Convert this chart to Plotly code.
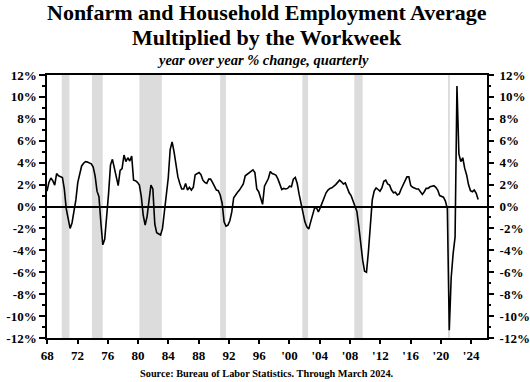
import pandas as pd
import plotly.graph_objects as go

# ---- data (quarterly, 1968Q1 - 2024Q1), year-over-year % change ----
start_quarter = "1968Q1"
values = [
    1.4, 2.2, 2.6, 2.35, 1.95, 3.0, 2.8, 2.75, 2.65, 1.6,
    -0.2, -1.1, -2.0, -1.5, -0.6, 0.6, 2.2, 3.1, 3.7, 3.95,
    4.1, 4.05, 3.95, 3.9, 3.6, 2.8, 1.4, 0.9, -1.5, -3.5,
    -3.0, -1.0, 1.2, 3.8, 4.3, 3.5, 2.65, 1.9, 3.3, 3.45,
    4.7, 4.1, 4.45, 4.15, 4.6, 2.4, 2.35, 2.2, 1.95, 0.9,
    -0.8, -1.7, -0.9, 0.4, 1.95, 1.6, -1.6, -2.4, -2.5, -2.6,
    -2.0, -0.3, 1.5, 2.6, 5.2, 5.9, 5.0, 3.8, 2.7, 2.1,
    1.6, 1.6, 2.1, 1.5, 1.75, 1.5, 1.75, 2.9, 3.0, 3.1,
    2.9, 2.4, 2.2, 2.1, 2.5, 2.5, 2.2, 1.8, 1.5, 1.45,
    1.05, 0.3, -1.4, -1.8, -1.7, -1.3, -0.5, 0.8, 1.1, 1.3,
    1.5, 1.75, 2.05, 2.8, 2.95, 3.1, 3.2, 3.35, 3.1, 1.6,
    1.35, 0.8, 0.2, 1.85, 2.25, 2.55, 3.2, 3.0, 2.95, 2.85,
    2.5, 2.1, 1.55, 1.65, 1.6, 1.65, 1.85, 1.8, 2.5, 2.65,
    2.1, 1.1, 0.2, -0.8, -1.4, -1.85, -2.05, -1.4, -0.7, -0.15,
    -0.1, -0.5, -0.1, 0.4, 0.8, 1.25, 1.5, 1.65, 1.7, 1.9,
    2.0, 2.2, 2.4, 2.25, 2.05, 2.15, 1.7, 1.25, 1.0, 0.55,
    0.0, -0.45, -1.8, -3.5, -4.9, -5.9, -6.0, -4.1, -2.0, 0.6,
    1.4, 1.7, 1.55, 1.4, 1.7, 2.3, 2.4, 2.05, 1.95, 1.5,
    1.25, 1.3, 1.05, 1.15, 1.6, 2.0, 2.35, 2.7, 2.7, 1.9,
    1.75, 1.65, 1.6, 1.6, 1.3, 1.1, 1.35, 1.65, 1.65, 1.8,
    1.85, 1.9, 1.75, 1.5, 1.0, 0.9, 0.85, 0.5, -0.2, -11.3,
    -6.5, -4.3, -2.8, 11.0, 4.8, 4.1, 4.45, 3.5, 2.9, 2.0,
    1.45, 1.35, 1.5, 1.2, 0.65,
]
dates = pd.period_range(start=start_quarter, periods=len(values), freq="Q").to_timestamp()

rec_start = ["1969-12-01", "1973-11-01", "1980-01-01", "1990-07-01", "2001-03-01", "2007-12-01", "2020-02-01"]
rec_end = ["1970-11-30", "1975-03-31", "1982-11-30", "1991-03-31", "2001-11-30", "2008-12-31", "2020-04-30"]

x_tick_years = list(range(1968, 2025, 4))
x_tick_labels = ["68", "72", "76", "80", "84", "88", "92", "96",
                 "'00", "'04", "'08", "'12", "'16", "'20", "'24"]
y_tick_vals = list(range(-12, 13, 2))
y_tick_labels = [f"{v}%" for v in y_tick_vals]

title_1 = "Nonfarm and Household Employment Average"
title_2 = "Multiplied by the Workweek"
subtitle = "year over year % change, quarterly"
source = "Source: Bureau of Labor Statistics. Through March 2024."

SERIF = "Liberation Serif, Times New Roman, serif"
tick_font = dict(family=SERIF, size=13, color="black", weight="bold")

fig = go.Figure()
fig.add_trace(go.Scatter(x=dates, y=values, mode="lines",
                         line=dict(color="black", width=1.6), hoverinfo="skip",
                         showlegend=False))
# empty trace so the overlaid label axes (x2 / y2) are created
fig.add_trace(go.Scatter(x=[], y=[], xaxis="x2", yaxis="y2", mode="lines",
                         hoverinfo="skip", showlegend=False))

for s, e in zip(rec_start, rec_end):
    fig.add_shape(type="rect", xref="x", yref="paper", x0=s, x1=e, y0=0, y1=1,
                  fillcolor="#dcdcdc", line=dict(width=0), layer="below")

fig.update_layout(
    template="none",
    width=530, height=382, autosize=False,
    margin=dict(l=47, r=43, t=75, b=44, pad=0),
    paper_bgcolor="white", plot_bgcolor="white",
    showlegend=False, hovermode=False,
    font=dict(family=SERIF, color="black"),
    xaxis=dict(type="date", range=["1968-01-01", "2025-02-24"], automargin=False,
               showticklabels=False, ticks="", showgrid=False, zeroline=False,
               showline=True, mirror=True, linecolor="black", linewidth=1.5),
    xaxis2=dict(overlaying="x", anchor="y2", side="bottom", type="linear", automargin=False,
                range=[1967.97, 2026.09], tickmode="array",
                tickvals=x_tick_years, ticktext=x_tick_labels,
                ticks="outside", ticklen=5, tickwidth=1.5, tickcolor="black",
                tickfont=tick_font, showgrid=False, zeroline=False, showline=False),
    yaxis=dict(range=[-12, 12], tickmode="array", tickvals=y_tick_vals, ticktext=y_tick_labels,
               automargin=False,
               ticks="outside", ticklen=6, tickwidth=1.5, tickcolor="black",
               minor=dict(dtick=1, ticks="outside", ticklen=3, tickwidth=1.5, tickcolor="black"),
               tickfont=tick_font, showgrid=False,
               zeroline=True, zerolinecolor="black", zerolinewidth=1.5,
               showline=True, mirror=True, linecolor="black", linewidth=1.5),
    yaxis2=dict(overlaying="y", side="right", anchor="x2", type="linear", range=[-12, 12],
                automargin=False, ticklabelstandoff=3,
                tickmode="array", tickvals=y_tick_vals, ticktext=y_tick_labels,
                ticks="outside", ticklen=6, tickwidth=1.5, tickcolor="black",
                minor=dict(dtick=1, ticks="outside", ticklen=3, tickwidth=1.5, tickcolor="black"),
                tickfont=tick_font, showgrid=False, zeroline=False, showline=False),
)

fig.add_annotation(text=title_1, xref="paper", yref="paper", x=0.5, y=(338 - 12.5) / 263,
                   xanchor="center", yanchor="middle", showarrow=False,
                   font=dict(family=SERIF, size=22, color="black", weight="bold"))
fig.add_annotation(text=title_2, xref="paper", yref="paper", x=0.5, y=(338 - 37) / 263,
                   xanchor="center", yanchor="middle", showarrow=False,
                   font=dict(family=SERIF, size=22, color="black", weight="bold"))
fig.add_annotation(text=subtitle, xref="paper", yref="paper", x=0.5, y=(338 - 60) / 263,
                   xanchor="center", yanchor="middle", showarrow=False, xshift=-4,
                   font=dict(family=SERIF, size=14.5, color="black", weight="bold", style="italic"))
fig.add_annotation(text=source, xref="paper", yref="paper", x=0.5, y=(338 - 373) / 263,
                   xanchor="center", yanchor="middle", showarrow=False,
                   font=dict(family=SERIF, size=10.3, color="black", weight="bold"))

fig.write_html("out.html", config={"displayModeBar": False},
               post_script="document.body.style.margin='0';document.body.style.padding='0';")
